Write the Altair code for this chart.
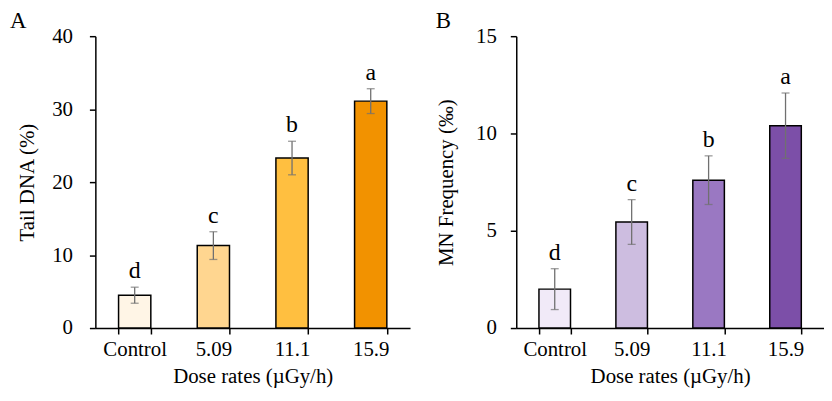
import altair as alt
import pandas as pd

doses = ["Control", "5.09", "11.1", "15.9"]
tail_dna = [4.5, 11.3, 23.3, 31.1]
tail_err = [1.1, 1.9, 2.3, 1.7]
tail_letters = ["d", "c", "b", "a"]
tail_colors = ["#FFF5E6", "#FFD690", "#FFBF40", "#F29200"]

mn_freq = [2.0, 5.45, 7.6, 10.4]
mn_err = [1.05, 1.15, 1.25, 1.68]
mn_letters = ["d", "c", "b", "a"]
mn_colors = ["#F1EAF8", "#CDBDE0", "#9A78C2", "#7C4FA8"]

FONT = "Liberation Serif"


def panel(vals, errs, letters, colors, ymax, step, ytitle, tag, width, lab_pad, title_pad, tag_x):
    df = pd.DataFrame({
        "dose": doses,
        "val": vals,
        "lo": [v - e for v, e in zip(vals, errs)],
        "hi": [v + e for v, e in zip(vals, errs)],
        "letter": letters,
    })
    xaxis = alt.Axis(labelAngle=0, labelPadding=5, titlePadding=6, tickBand="extent")
    xenc = alt.X(
        "dose:N", sort=doses, title="Dose rates (\u00b5Gy/h)",
        scale=alt.Scale(paddingInner=0.59, paddingOuter=0.295),
        axis=xaxis,
    )
    xplain = alt.X("dose:N", sort=doses, title="Dose rates (\u00b5Gy/h)", axis=xaxis)
    base = alt.Chart(df)
    bars = base.mark_bar(stroke="black", strokeWidth=1.5).encode(
        x=xenc,
        y=alt.Y("val:Q", title=ytitle,
                scale=alt.Scale(domain=[0, ymax], nice=False),
                axis=alt.Axis(values=list(range(0, ymax + 1, step)),
                              labelPadding=lab_pad, titlePadding=title_pad)),
        color=alt.Color("dose:N", sort=doses,
                        scale=alt.Scale(domain=doses, range=colors), legend=None),
    )
    err = base.mark_rule(color="#707070", strokeWidth=1.3).encode(
        x=xplain, y="lo:Q", y2="hi:Q")
    caps_hi = base.mark_tick(color="#707070", thickness=1.3, size=8, orient="horizontal").encode(
        x=xplain, y="hi:Q")
    caps_lo = base.mark_tick(color="#707070", thickness=1.3, size=8, orient="horizontal").encode(
        x=xplain, y="lo:Q")
    txt = base.mark_text(baseline="bottom", dy=-4, fontSize=24, font=FONT, color="black").encode(
        x=xplain, y="hi:Q", text="letter:N")
    tagdf = pd.DataFrame({"t": [tag]})
    tagm = alt.Chart(tagdf).mark_text(fontSize=23, font=FONT, color="black",
                                      align="left", baseline="alphabetic").encode(
        text="t:N", x=alt.value(tag_x), y=alt.value(-8))
    return alt.layer(bars, err, caps_hi, caps_lo, txt, tagm).properties(width=width, height=294)


pa = panel(tail_dna, tail_err, tail_letters, tail_colors, 40, 10, "Tail DNA (%)", "A", 317, 17, 14, -86)
pb = panel(mn_freq, mn_err, mn_letters, mn_colors, 15, 5, "MN Frequency (\u2030)", "B", 310, 14, 19, -81)

chart = alt.hconcat(pa, pb, spacing=26).properties(
    padding={"left": 2, "top": 1, "right": 0, "bottom": 0}
).configure_view(stroke=None).configure_axis(
    labelFont=FONT, titleFont=FONT, labelFontSize=21, titleFontSize=21,
    titleFontWeight="normal", labelColor="black", titleColor="black",
    domainColor="black", tickColor="black", domainWidth=1.5, tickWidth=1.5,
    tickSize=6, grid=False
).resolve_scale(color="independent", y="independent")

chart.save("out.html", embed_options={"renderer": "svg", "actions": False})
